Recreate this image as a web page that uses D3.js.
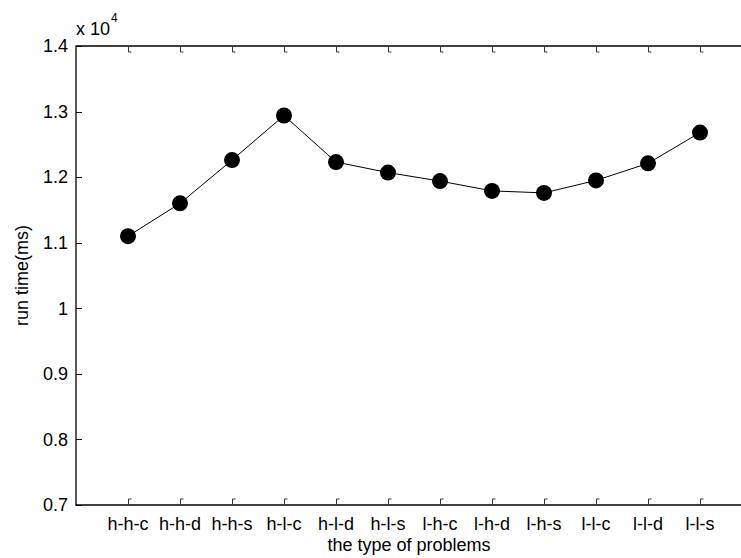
<!DOCTYPE html>
<html>
<head>
<meta charset="utf-8">
<script src="https://cdn.jsdelivr.net/npm/d3@7"></script>
<style>
  html, body { margin: 0; padding: 0; background: #fff; }
  svg { display: block; }
  text { font-family: "Liberation Sans", Arial, sans-serif; fill: #000; }
</style>
</head>
<body>
<svg id="chart" width="741" height="558"></svg>
<script>
const categories = ["h-h-c","h-h-d","h-h-s","h-l-c","h-l-d","h-l-s","l-h-c","l-h-d","l-h-s","l-l-c","l-l-d","l-l-s"];
const runTime = [1.110, 1.160, 1.226, 1.294, 1.223, 1.207, 1.194, 1.179, 1.176, 1.195, 1.221, 1.268]; // x 10^4 ms
const yTicks = [0.7, 0.8, 0.9, 1.0, 1.1, 1.2, 1.3, 1.4];
const yTickLabels = ["0.7","0.8","0.9","1","1.1","1.2","1.3","1.4"];

const svg = d3.select("#chart");
const L = 76, R = 752, T = 46, B = 505;
const x = d3.scaleLinear().domain([0, 13]).range([L, R]);
const y = d3.scaleLinear().domain([0.7, 1.4]).range([B, T]);
const fs = 18;

// axes box lines (left, top, bottom)
svg.append("path")
  .attr("d", `M${R},${T}H${L}V${B}H${R}`)
  .attr("fill", "none").attr("stroke", "#000").attr("stroke-width", 1.3);

// y ticks
svg.selectAll(".yt").data(yTicks).enter().append("line")
  .attr("x1", L).attr("x2", L + 6)
  .attr("y1", d => Math.round(y(d)) + 0.5).attr("y2", d => Math.round(y(d)) + 0.5)
  .attr("stroke", "#000").attr("stroke-width", 1);
svg.selectAll(".yl").data(yTicks).enter().append("text")
  .attr("x", L - 8).attr("y", d => y(d))
  .attr("dy", "0.35em")
  .attr("text-anchor", "end").attr("font-size", fs)
  .text((d, i) => yTickLabels[i]);

// x ticks (top and bottom) with little hooks
const xi = categories.map((c, i) => i + 1);
svg.selectAll(".xtt").data(xi).enter().append("path")
  .attr("d", d => `M${Math.round(x(d)) + 0.5},${T}V${T + 6}H${Math.round(x(d)) + 3.5}`)
  .attr("fill", "none").attr("stroke", "#333").attr("stroke-width", 1);
svg.selectAll(".xtb").data(xi).enter().append("path")
  .attr("d", d => `M${Math.round(x(d)) + 0.5},${B}V${B - 6}H${Math.round(x(d)) + 3.5}`)
  .attr("fill", "none").attr("stroke", "#333").attr("stroke-width", 1);
svg.selectAll(".xl").data(categories).enter().append("text")
  .attr("x", (d, i) => x(i + 1)).attr("y", 530)
  .attr("text-anchor", "middle").attr("font-size", fs)
  .text(d => d);

// exponent label
svg.append("text").attr("x", L).attr("y", 35).attr("font-size", fs).text("x 10");
svg.append("text").attr("x", 111).attr("y", 22).attr("font-size", 12).text("4");

// axis labels
svg.append("text").attr("x", 409).attr("y", 551)
  .attr("text-anchor", "middle").attr("font-size", fs)
  .text("the type of problems");
svg.append("text")
  .attr("transform", `translate(28,${(T + B) / 2}) rotate(-90)`)
  .attr("text-anchor", "middle").attr("font-size", fs)
  .text("run time(ms)");

// line + markers
const line = d3.line().x((d, i) => x(i + 1)).y(d => y(d));
svg.append("path").datum(runTime)
  .attr("d", line).attr("fill", "none")
  .attr("stroke", "#000").attr("stroke-width", 1);
svg.selectAll(".pt").data(runTime).enter().append("circle")
  .attr("cx", (d, i) => x(i + 1)).attr("cy", d => y(d))
  .attr("r", 8).attr("fill", "#000");
</script>
</body>
</html>
